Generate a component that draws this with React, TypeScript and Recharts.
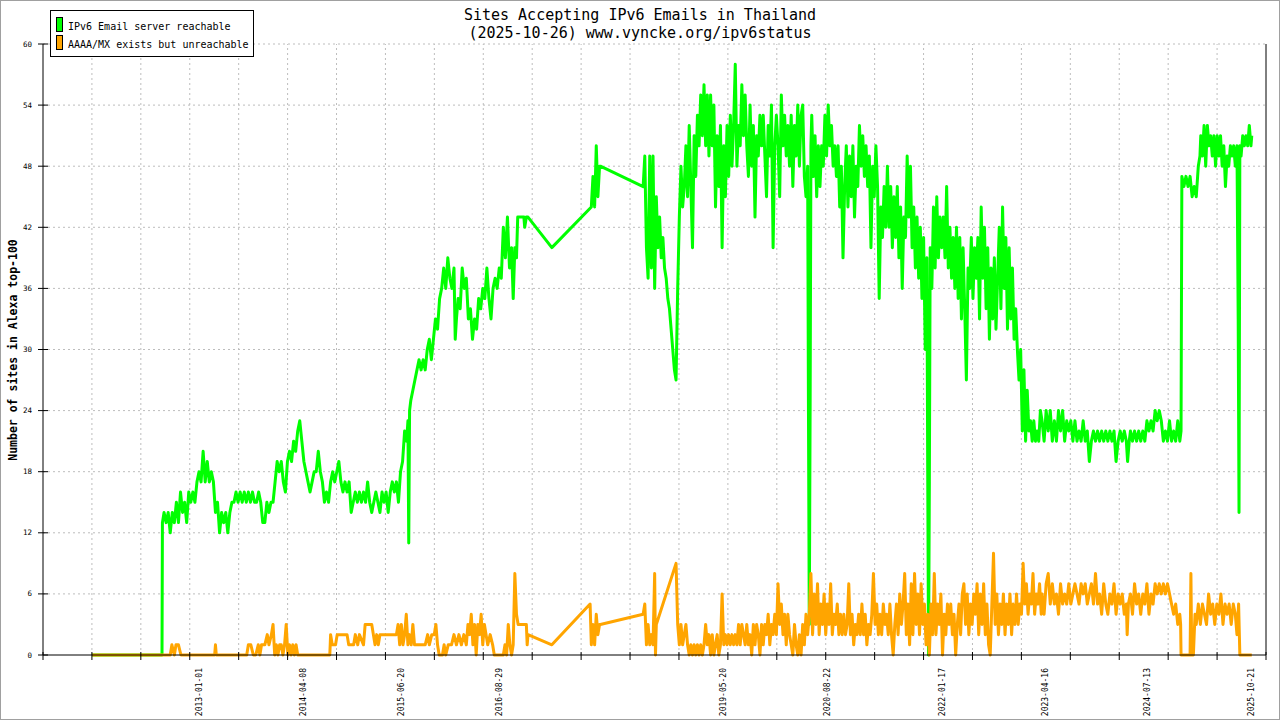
import React from 'react';
import { LineChart, Line, XAxis, YAxis, ReferenceLine } from 'recharts';

const FONT = '"DejaVu Sans Mono", monospace';
const TITLE = 'Sites Accepting IPv6 Emails in Thailand';
const SUBTITLE = '(2025-10-26) www.vyncke.org/ipv6status';
const Y_LABEL = 'Number of sites in Alexa top-100';
const SERIES_NAMES = ['IPv6 Email server reachable', 'AAAA/MX exists but unreachable'];
const COLORS = ['#00ff00', '#ffa500'];

const X_LABELS = ['2013-01-01', '2014-04-08', '2015-06-20', '2016-08-29', '2019-05-20', '2020-08-22', '2022-01-17', '2023-04-16', '2024-07-13', '2025-10-21'];
const Y_TICKS = [0, 6, 12, 18, 24, 30, 36, 42, 48, 54, 60];
const X_MIN = 2011.103;
const X_MAX = 2025.973;
const X_TICK_INTERVALS = 25;

// [decimal year, sites]
const reachable: [number, number][] = [
  [2011.70, 0], [2012.55, 0], [2012.555, 13], [2012.575, 14], [2012.60, 13], [2012.625, 14], [2012.65, 12], [2012.675, 14], [2012.70, 13], [2012.725, 15], [2012.75, 13], [2012.775, 16], [2012.80, 14], [2012.825, 15], [2012.85, 13], [2012.875, 16], [2012.90, 15], [2012.925, 16], [2012.95, 15], [2012.975, 17],
  [2013.00, 18], [2013.025, 17], [2013.05, 20], [2013.075, 17], [2013.10, 19], [2013.125, 17], [2013.15, 18], [2013.175, 17], [2013.20, 14], [2013.225, 15], [2013.25, 12], [2013.275, 14], [2013.30, 13], [2013.325, 14], [2013.35, 12], [2013.375, 14], [2013.40, 15], [2013.425, 15], [2013.45, 16], [2013.475, 15], [2013.50, 16], [2013.525, 15], [2013.55, 16], [2013.575, 15], [2013.60, 16], [2013.625, 15], [2013.65, 16], [2013.675, 15], [2013.70, 15], [2013.725, 16], [2013.75, 15], [2013.775, 13], [2013.80, 13], [2013.825, 15], [2013.85, 14], [2013.875, 15], [2013.90, 15], [2013.925, 17], [2013.95, 19], [2013.975, 18],
  [2014.00, 19], [2014.025, 17], [2014.05, 16], [2014.075, 19], [2014.10, 20], [2014.125, 19], [2014.15, 21], [2014.175, 20], [2014.20, 22], [2014.225, 23], [2014.25, 21], [2014.275, 19], [2014.30, 18], [2014.325, 17], [2014.35, 16], [2014.375, 17], [2014.40, 18], [2014.425, 18], [2014.45, 20], [2014.475, 18], [2014.50, 17], [2014.525, 15], [2014.55, 16], [2014.575, 15], [2014.60, 17], [2014.625, 18], [2014.65, 17], [2014.675, 18], [2014.70, 19], [2014.725, 17], [2014.75, 16], [2014.775, 17], [2014.80, 16], [2014.825, 17], [2014.85, 14], [2014.875, 15], [2014.90, 16], [2014.925, 15], [2014.95, 16], [2014.975, 15],
  [2015.00, 16], [2015.025, 15], [2015.05, 17], [2015.075, 15], [2015.10, 14], [2015.125, 15], [2015.15, 16], [2015.175, 15], [2015.20, 14], [2015.225, 16], [2015.25, 15], [2015.275, 16], [2015.30, 14], [2015.325, 16], [2015.35, 17], [2015.375, 16], [2015.40, 17], [2015.425, 15], [2015.45, 18], [2015.475, 19], [2015.50, 22], [2015.525, 21], [2015.54, 23], [2015.55, 11], [2015.56, 24], [2015.575, 25], [2015.60, 26], [2015.625, 27], [2015.65, 28], [2015.675, 29], [2015.70, 28], [2015.725, 29], [2015.75, 28], [2015.775, 30], [2015.80, 31], [2015.825, 29], [2015.85, 31], [2015.875, 33], [2015.90, 32], [2015.925, 35], [2015.95, 36], [2015.975, 38],
  [2016.00, 36], [2016.025, 39], [2016.05, 37], [2016.075, 36], [2016.10, 38], [2016.115, 31], [2016.13, 33], [2016.15, 35], [2016.175, 34], [2016.20, 38], [2016.225, 36], [2016.25, 37], [2016.275, 33], [2016.30, 34], [2016.325, 31], [2016.35, 33], [2016.375, 32], [2016.40, 35], [2016.425, 34], [2016.45, 36], [2016.475, 35], [2016.50, 38], [2016.525, 35], [2016.55, 33], [2016.575, 36], [2016.60, 37], [2016.625, 36], [2016.65, 38], [2016.675, 37], [2016.70, 42], [2016.725, 39], [2016.75, 43], [2016.775, 38], [2016.80, 40], [2016.82, 35], [2016.84, 40], [2016.86, 39], [2016.875, 43], [2016.95, 43], [2016.96, 42], [2016.98, 43],
  [2017.00, 43], [2017.29, 40], [2017.77, 44], [2017.79, 47], [2017.81, 44], [2017.83, 50], [2017.85, 45], [2017.87, 48], [2017.88, 48],
  [2018.40, 46], [2018.42, 49], [2018.44, 40], [2018.46, 37], [2018.48, 49], [2018.50, 38], [2018.52, 49], [2018.54, 36], [2018.56, 45], [2018.58, 40], [2018.60, 43], [2018.62, 39], [2018.64, 41], [2018.66, 38], [2018.68, 37], [2018.70, 35], [2018.72, 34], [2018.74, 32], [2018.76, 30], [2018.78, 28], [2018.80, 27], [2018.82, 36], [2018.84, 43], [2018.86, 48], [2018.88, 44], [2018.90, 46], [2018.92, 50], [2018.94, 45], [2018.96, 52], [2018.98, 46],
  [2019.00, 40], [2019.02, 51], [2019.04, 47], [2019.06, 53], [2019.08, 50], [2019.10, 55], [2019.12, 51], [2019.14, 56], [2019.16, 50], [2019.18, 55], [2019.20, 49], [2019.22, 55], [2019.24, 50], [2019.26, 54], [2019.28, 44], [2019.30, 51], [2019.32, 46], [2019.34, 52], [2019.36, 40], [2019.38, 50], [2019.40, 45], [2019.42, 52], [2019.44, 47], [2019.46, 53], [2019.48, 48], [2019.50, 52], [2019.52, 58], [2019.54, 48], [2019.56, 52], [2019.58, 50], [2019.60, 56], [2019.62, 51], [2019.64, 55], [2019.66, 50], [2019.68, 47], [2019.70, 54], [2019.72, 48], [2019.74, 52], [2019.76, 43], [2019.78, 51], [2019.80, 49], [2019.82, 53], [2019.84, 50], [2019.86, 53], [2019.88, 49], [2019.90, 45], [2019.92, 52], [2019.94, 49], [2019.96, 54], [2019.98, 40],
  [2020.00, 50], [2020.02, 53], [2020.04, 50], [2020.06, 45], [2020.08, 55], [2020.10, 50], [2020.12, 53], [2020.14, 49], [2020.16, 52], [2020.18, 48], [2020.20, 53], [2020.22, 46], [2020.24, 52], [2020.26, 49], [2020.28, 54], [2020.30, 48], [2020.32, 53], [2020.34, 54], [2020.36, 47], [2020.38, 45], [2020.40, 48], [2020.41, 24], [2020.42, 3], [2020.43, 24], [2020.44, 50], [2020.45, 53], [2020.47, 47], [2020.49, 51], [2020.51, 45], [2020.53, 50], [2020.55, 46], [2020.57, 50], [2020.59, 48], [2020.61, 53], [2020.63, 49], [2020.65, 54], [2020.67, 50], [2020.69, 52], [2020.71, 48], [2020.73, 50], [2020.75, 47], [2020.77, 50], [2020.79, 44], [2020.81, 48], [2020.83, 39], [2020.85, 46], [2020.87, 50], [2020.89, 44], [2020.91, 49], [2020.93, 45], [2020.95, 50], [2020.97, 43], [2020.99, 48],
  [2021.01, 46], [2021.03, 52], [2021.05, 48], [2021.07, 51], [2021.09, 47], [2021.11, 50], [2021.13, 46], [2021.15, 49], [2021.17, 40], [2021.19, 48], [2021.21, 45], [2021.23, 50], [2021.25, 46], [2021.27, 35], [2021.29, 44], [2021.31, 41], [2021.33, 46], [2021.35, 42], [2021.37, 48], [2021.39, 42], [2021.41, 46], [2021.43, 40], [2021.45, 45], [2021.47, 41], [2021.49, 46], [2021.51, 39], [2021.53, 44], [2021.55, 36], [2021.57, 43], [2021.59, 41], [2021.61, 49], [2021.63, 43], [2021.65, 48], [2021.67, 40], [2021.69, 44], [2021.71, 38], [2021.73, 43], [2021.75, 37], [2021.77, 42], [2021.79, 35], [2021.81, 41], [2021.83, 30], [2021.85, 39], [2021.86, 18], [2021.87, 0], [2021.88, 17], [2021.89, 40], [2021.91, 36], [2021.93, 44], [2021.95, 38], [2021.97, 45], [2021.99, 39],
  [2022.01, 43], [2022.03, 40], [2022.05, 43], [2022.07, 39], [2022.09, 46], [2022.11, 38], [2022.13, 42], [2022.15, 37], [2022.17, 41], [2022.19, 36], [2022.21, 42], [2022.23, 35], [2022.25, 41], [2022.27, 33], [2022.29, 40], [2022.31, 34], [2022.33, 27], [2022.35, 38], [2022.37, 36], [2022.39, 41], [2022.41, 35], [2022.43, 40], [2022.45, 37], [2022.47, 41], [2022.49, 33], [2022.51, 44], [2022.53, 37], [2022.55, 42], [2022.57, 34], [2022.59, 40], [2022.61, 31], [2022.63, 38], [2022.65, 33], [2022.67, 39], [2022.69, 32], [2022.71, 37], [2022.73, 42], [2022.75, 34], [2022.77, 44], [2022.79, 36], [2022.81, 41], [2022.83, 32], [2022.85, 40], [2022.87, 33], [2022.89, 38], [2022.91, 31], [2022.93, 34], [2022.95, 30], [2022.97, 27], [2022.99, 30],
  [2023.01, 22], [2023.03, 28], [2023.05, 21], [2023.07, 26], [2023.09, 22], [2023.11, 23], [2023.13, 21], [2023.15, 23], [2023.17, 21], [2023.19, 22], [2023.21, 21], [2023.23, 24], [2023.25, 23], [2023.275, 21], [2023.30, 24], [2023.325, 22], [2023.35, 24], [2023.375, 21], [2023.40, 23], [2023.425, 21], [2023.45, 24], [2023.475, 22], [2023.50, 24], [2023.525, 21], [2023.55, 23], [2023.575, 22], [2023.60, 23], [2023.625, 21], [2023.65, 23], [2023.675, 21], [2023.70, 22], [2023.725, 21], [2023.75, 23], [2023.775, 21], [2023.80, 22], [2023.825, 19], [2023.85, 21], [2023.875, 22], [2023.90, 21], [2023.925, 22], [2023.95, 21], [2023.975, 22],
  [2024.00, 21], [2024.025, 22], [2024.05, 21], [2024.075, 22], [2024.10, 21], [2024.125, 22], [2024.15, 19], [2024.175, 21], [2024.20, 22], [2024.225, 21], [2024.25, 22], [2024.275, 21], [2024.29, 19], [2024.31, 21], [2024.325, 22], [2024.35, 21], [2024.375, 22], [2024.40, 21], [2024.425, 22], [2024.45, 21], [2024.475, 22], [2024.50, 21], [2024.525, 23], [2024.55, 22], [2024.575, 23], [2024.60, 22], [2024.625, 24], [2024.65, 23], [2024.675, 24], [2024.70, 23], [2024.725, 21], [2024.75, 22], [2024.775, 21], [2024.80, 23], [2024.825, 21], [2024.85, 22], [2024.875, 21], [2024.90, 23], [2024.925, 21], [2024.94, 22], [2024.95, 47], [2024.975, 46],
  [2025.00, 47], [2025.025, 46], [2025.05, 47], [2025.075, 45], [2025.10, 46], [2025.125, 45], [2025.15, 48], [2025.17, 49], [2025.18, 51], [2025.20, 49], [2025.22, 52], [2025.24, 48], [2025.26, 52], [2025.28, 50], [2025.30, 51], [2025.32, 49], [2025.34, 51], [2025.36, 48], [2025.38, 51], [2025.40, 49], [2025.42, 51], [2025.44, 48], [2025.46, 50], [2025.48, 46], [2025.50, 49], [2025.52, 48], [2025.54, 50], [2025.56, 49], [2025.58, 50], [2025.60, 48], [2025.62, 50], [2025.635, 33], [2025.645, 14], [2025.655, 50], [2025.67, 49], [2025.69, 51], [2025.71, 50], [2025.73, 51], [2025.75, 50], [2025.77, 52], [2025.79, 50], [2025.80, 51],
];

const unreachable: [number, number][] = [
  [2011.70, 0], [2012.65, 0], [2012.67, 1], [2012.70, 0], [2012.72, 1], [2012.75, 1], [2012.78, 0], [2013.19, 0], [2013.20, 1], [2013.21, 0],
  [2013.58, 0], [2013.60, 1], [2013.63, 1], [2013.66, 0], [2013.69, 0], [2013.72, 1], [2013.74, 0], [2013.76, 1], [2013.80, 1], [2013.83, 2], [2013.85, 1], [2013.88, 2], [2013.90, 3], [2013.92, 0], [2013.94, 1], [2013.96, 0], [2013.98, 1],
  [2014.00, 1], [2014.02, 0], [2014.04, 1], [2014.06, 3], [2014.08, 0], [2014.10, 1], [2014.12, 0], [2014.14, 1], [2014.16, 0], [2014.18, 1], [2014.20, 0], [2014.59, 0], [2014.60, 2], [2014.62, 1], [2014.66, 1], [2014.68, 2], [2014.80, 2], [2014.82, 1], [2014.88, 1], [2014.90, 2], [2014.93, 1], [2014.95, 2],
  [2015.00, 1], [2015.02, 3], [2015.10, 3], [2015.12, 2], [2015.14, 1], [2015.16, 2], [2015.18, 1], [2015.20, 2], [2015.40, 2], [2015.42, 3], [2015.44, 1], [2015.46, 3], [2015.48, 1], [2015.50, 2], [2015.52, 4], [2015.54, 1], [2015.56, 2], [2015.58, 1], [2015.60, 3], [2015.62, 1], [2015.70, 1], [2015.75, 1], [2015.78, 2], [2015.80, 1], [2015.83, 2], [2015.86, 2], [2015.88, 3], [2015.90, 1], [2015.92, 0], [2015.96, 0], [2015.98, 1],
  [2016.00, 0], [2016.03, 1], [2016.07, 1], [2016.10, 2], [2016.13, 1], [2016.16, 2], [2016.19, 1], [2016.22, 2], [2016.25, 1], [2016.27, 3], [2016.29, 2], [2016.31, 4], [2016.33, 1], [2016.35, 3], [2016.37, 0], [2016.39, 3], [2016.41, 2], [2016.43, 4], [2016.45, 1], [2016.47, 3], [2016.49, 2], [2016.51, 1], [2016.54, 2], [2016.57, 1], [2016.59, 0], [2016.70, 0], [2016.72, 1], [2016.74, 0], [2016.76, 3], [2016.78, 1], [2016.80, 0], [2016.82, 1], [2016.84, 8], [2016.86, 4], [2016.88, 3], [2016.98, 3], [2016.99, 1],
  [2017.00, 2], [2017.29, 1], [2017.755, 5], [2017.77, 1], [2017.79, 3], [2017.81, 1], [2017.83, 4], [2017.85, 2], [2017.87, 3], [2017.88, 3],
  [2018.40, 4], [2018.42, 5], [2018.44, 1], [2018.46, 3], [2018.48, 1], [2018.50, 2], [2018.52, 1], [2018.54, 8], [2018.55, 0], [2018.56, 3], [2018.80, 9], [2018.82, 3], [2018.84, 1], [2018.86, 3], [2018.88, 1], [2018.90, 2], [2018.92, 3], [2018.94, 1], [2018.96, 0], [2018.98, 1],
  [2019.00, 0], [2019.02, 1], [2019.04, 0], [2019.06, 1], [2019.08, 0], [2019.10, 1], [2019.12, 0], [2019.14, 1], [2019.16, 3], [2019.18, 1], [2019.20, 2], [2019.22, 0], [2019.24, 2], [2019.26, 0], [2019.28, 1], [2019.30, 2], [2019.32, 0], [2019.34, 1], [2019.36, 6], [2019.38, 1], [2019.40, 2], [2019.42, 1], [2019.44, 2], [2019.46, 1], [2019.48, 2], [2019.50, 1], [2019.52, 2], [2019.54, 1], [2019.56, 3], [2019.58, 1], [2019.60, 3], [2019.62, 2], [2019.64, 1], [2019.66, 3], [2019.68, 1], [2019.70, 2], [2019.72, 0], [2019.74, 3], [2019.76, 1], [2019.78, 3], [2019.80, 2], [2019.82, 0], [2019.84, 3], [2019.86, 1], [2019.88, 3], [2019.90, 2], [2019.92, 4], [2019.94, 1], [2019.96, 3], [2019.98, 2],
  [2020.00, 4], [2020.02, 2], [2020.04, 7], [2020.06, 3], [2020.08, 5], [2020.10, 2], [2020.12, 4], [2020.14, 1], [2020.16, 4], [2020.18, 2], [2020.20, 1], [2020.22, 0], [2020.24, 3], [2020.26, 1], [2020.28, 0], [2020.30, 2], [2020.32, 0], [2020.34, 3], [2020.36, 1], [2020.38, 4], [2020.40, 2], [2020.42, 4], [2020.44, 8], [2020.46, 2], [2020.48, 6], [2020.50, 3], [2020.52, 7], [2020.54, 2], [2020.56, 5], [2020.58, 3], [2020.60, 6], [2020.62, 2], [2020.64, 5], [2020.66, 3], [2020.68, 7], [2020.70, 2], [2020.72, 4], [2020.74, 3], [2020.76, 5], [2020.78, 2], [2020.80, 4], [2020.82, 2], [2020.84, 4], [2020.86, 2], [2020.88, 3], [2020.90, 7], [2020.92, 2], [2020.94, 4], [2020.96, 1], [2020.98, 3],
  [2021.00, 2], [2021.02, 4], [2021.04, 2], [2021.06, 5], [2021.08, 2], [2021.10, 4], [2021.12, 1], [2021.14, 3], [2021.16, 2], [2021.18, 4], [2021.20, 8], [2021.22, 3], [2021.24, 5], [2021.26, 2], [2021.28, 4], [2021.30, 2], [2021.32, 5], [2021.34, 3], [2021.36, 4], [2021.38, 2], [2021.40, 5], [2021.42, 2], [2021.44, 0], [2021.46, 3], [2021.48, 5], [2021.50, 2], [2021.52, 6], [2021.54, 3], [2021.56, 5], [2021.58, 8], [2021.60, 2], [2021.62, 5], [2021.64, 1], [2021.66, 7], [2021.68, 2], [2021.70, 8], [2021.72, 3], [2021.74, 6], [2021.76, 2], [2021.78, 7], [2021.80, 3], [2021.82, 5], [2021.84, 1], [2021.86, 4], [2021.88, 0], [2021.90, 5], [2021.92, 2], [2021.94, 8], [2021.96, 2], [2021.98, 5],
  [2022.00, 3], [2022.02, 6], [2022.04, 0], [2022.06, 4], [2022.08, 2], [2022.10, 5], [2022.12, 3], [2022.14, 5], [2022.16, 2], [2022.18, 4], [2022.20, 0], [2022.22, 3], [2022.24, 5], [2022.26, 2], [2022.28, 6], [2022.30, 7], [2022.32, 3], [2022.34, 6], [2022.36, 2], [2022.38, 5], [2022.40, 3], [2022.42, 6], [2022.44, 4], [2022.46, 7], [2022.48, 2], [2022.50, 6], [2022.52, 3], [2022.54, 7], [2022.56, 2], [2022.58, 5], [2022.60, 1], [2022.62, 0], [2022.64, 5], [2022.66, 10], [2022.68, 3], [2022.70, 6], [2022.72, 2], [2022.74, 5], [2022.76, 3], [2022.78, 6], [2022.80, 2], [2022.82, 5], [2022.84, 3], [2022.86, 6], [2022.88, 2], [2022.90, 5], [2022.92, 3], [2022.94, 6], [2022.96, 3], [2022.98, 5],
  [2023.00, 4], [2023.02, 9], [2023.04, 5], [2023.06, 7], [2023.08, 4], [2023.10, 6], [2023.12, 5], [2023.14, 8], [2023.16, 4], [2023.18, 6], [2023.20, 5], [2023.22, 7], [2023.24, 4], [2023.25, 6], [2023.275, 4], [2023.30, 7], [2023.325, 8], [2023.35, 5], [2023.375, 7], [2023.40, 5], [2023.425, 6], [2023.45, 4], [2023.475, 7], [2023.50, 5], [2023.525, 6], [2023.55, 5], [2023.575, 7], [2023.60, 5], [2023.625, 6], [2023.65, 7], [2023.675, 6], [2023.70, 5], [2023.725, 7], [2023.75, 6], [2023.775, 7], [2023.80, 5], [2023.825, 6], [2023.85, 7], [2023.875, 5], [2023.90, 8], [2023.925, 5], [2023.95, 6], [2023.975, 4],
  [2024.00, 7], [2024.025, 5], [2024.05, 4], [2024.075, 6], [2024.10, 5], [2024.125, 7], [2024.15, 4], [2024.175, 6], [2024.20, 5], [2024.225, 6], [2024.25, 4], [2024.275, 5], [2024.285, 2], [2024.30, 5], [2024.325, 6], [2024.35, 4], [2024.375, 7], [2024.40, 5], [2024.425, 6], [2024.45, 4], [2024.475, 6], [2024.50, 5], [2024.525, 7], [2024.55, 4], [2024.575, 6], [2024.60, 5], [2024.625, 7], [2024.65, 6], [2024.675, 7], [2024.70, 6], [2024.725, 7], [2024.75, 6], [2024.775, 7], [2024.80, 6], [2024.825, 5], [2024.85, 4], [2024.875, 5], [2024.90, 3], [2024.925, 4], [2024.935, 3], [2024.94, 0],
  [2025.05, 0], [2025.06, 8], [2025.07, 0], [2025.09, 0], [2025.11, 4], [2025.125, 3], [2025.15, 5], [2025.175, 3], [2025.20, 5], [2025.225, 4], [2025.25, 3], [2025.275, 6], [2025.30, 4], [2025.325, 5], [2025.35, 3], [2025.375, 5], [2025.40, 4], [2025.425, 6], [2025.45, 3], [2025.475, 5], [2025.50, 4], [2025.525, 5], [2025.55, 3], [2025.575, 5], [2025.60, 4], [2025.62, 2], [2025.64, 5], [2025.655, 0], [2025.80, 0],
];

function toYear(s: string): number {
  const [y, m, d] = s.split('-').map(Number);
  return 2013 + (Date.UTC(y, m - 1, d) - Date.UTC(2013, 0, 1)) / (86400000 * 365.25);
}

const greenData = reachable.map(([x, v]) => ({ x, v }));
const orangeData = unreachable.map(([x, v]) => ({ x, v }));

const majorTicks = Array.from({ length: X_TICK_INTERVALS + 1 }, (_, k) => X_MIN + (k * (X_MAX - X_MIN)) / X_TICK_INTERVALS);
const labelMap = new Map<number, string>();
X_LABELS.forEach((s) => labelMap.set(toYear(s), s));
const allXTicks = [...majorTicks, ...Array.from(labelMap.keys())].sort((a, b) => a - b);

const XTick = (props: any) => {
  const { x, y, payload } = props;
  const label = labelMap.get(payload.value);
  if (label) {
    const ty = y + 13;
    return (
      <text x={x} y={ty} transform={`rotate(-90 ${x} ${ty})`} textAnchor="end" dominantBaseline="central" fontFamily={FONT} fontSize={8} fill="#000">
        {label}
      </text>
    );
  }
  return <line x1={x} x2={x} y1={y - 3} y2={y + 5} stroke="#000" strokeWidth={1} />;
};

const YTick = (props: any) => {
  const { x, y, payload } = props;
  return (
    <g>
      <line x1={x - 5} x2={x + 5} y1={y} y2={y} stroke="#000" strokeWidth={1} />
      <text x={x - 11} y={y} textAnchor="end" dominantBaseline="central" fontFamily={FONT} fontSize={7.5} fill="#000">
        {payload.value}
      </text>
    </g>
  );
};

export default function App() {
  return (
    <div style={{ position: 'absolute', left: 0, top: 0, width: 1280, height: 720, background: '#fff', overflow: 'hidden' }}>
      <div style={{ position: 'absolute', left: 0, top: 0 }}>
        <LineChart width={1280} height={720} margin={{ top: 44, right: 14, bottom: 0, left: 0 }}>
          {majorTicks.slice(1, -1).map((t) => (
            <ReferenceLine key={'gx' + t} x={t} stroke="#bdbdbd" strokeDasharray="2 3" />
          ))}
          {Y_TICKS.slice(1).map((t) => (
            <ReferenceLine key={'gy' + t} y={t} stroke="#bdbdbd" strokeDasharray="2 3" />
          ))}
          <ReferenceLine x={X_MAX} stroke="#000" />
          <XAxis
            type="number"
            dataKey="x"
            domain={[X_MIN, X_MAX]}
            ticks={allXTicks}
            interval={0}
            allowDataOverflow
            height={65}
            tickSize={0}
            tickMargin={0}
            tickLine={false}
            axisLine={{ stroke: '#000' }}
            tick={<XTick />}
          />
          <YAxis
            type="number"
            domain={[0, 60]}
            ticks={Y_TICKS}
            interval={0}
            width={43}
            tickSize={0}
            tickMargin={0}
            tickLine={false}
            axisLine={{ stroke: '#000' }}
            tick={<YTick />}
          />
          <Line data={greenData} dataKey="v" type="linear" stroke={COLORS[0]} strokeWidth={3} dot={false} strokeLinejoin="round" isAnimationActive={false} />
          <Line data={orangeData} dataKey="v" type="linear" stroke={COLORS[1]} strokeWidth={3} dot={false} strokeLinejoin="round" isAnimationActive={false} />
        </LineChart>
      </div>
      <svg width={1280} height={720} style={{ position: 'absolute', left: 0, top: 0, pointerEvents: 'none' }}>
        <text x={640} y={19.5} textAnchor="middle" fontFamily={FONT} fontSize={15} fill="#000">{TITLE}</text>
        <text x={640} y={37.5} textAnchor="middle" fontFamily={FONT} fontSize={15} fill="#000">{SUBTITLE}</text>
        <text x={13} y={350} transform="rotate(-90 13 350)" textAnchor="middle" dominantBaseline="central" fontFamily={FONT} fontSize={11.5} fontWeight="bold" fill="#000">{Y_LABEL}</text>
        <rect x={50.5} y={10.5} width={203} height={46} fill="#fff" stroke="#000" strokeWidth={1} />
        <rect x={56.5} y={17.5} width={6} height={14} fill={COLORS[0]} stroke="#000" strokeWidth={1} />
        <rect x={56.5} y={35.5} width={6} height={14} fill={COLORS[1]} stroke="#000" strokeWidth={1} />
        <text x={68} y={29.5} fontFamily={FONT} fontSize={10} fill="#000">{SERIES_NAMES[0]}</text>
        <text x={68} y={47.5} fontFamily={FONT} fontSize={10} fill="#000">{SERIES_NAMES[1]}</text>
        <rect x={0.5} y={0.5} width={1279} height={719} fill="none" stroke="#a0a0a0" strokeWidth={1} />
      </svg>
    </div>
  );
}
